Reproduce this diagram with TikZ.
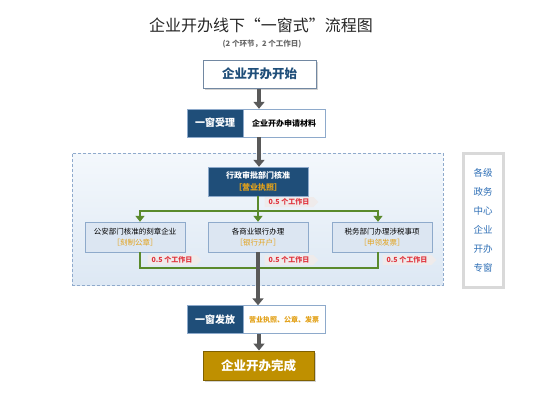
\documentclass[tikz,border=0pt]{standalone}
\usepackage{fontspec}
\setmainfont{Noto Sans CJK SC}
\usetikzlibrary{arrows.meta,shadows,shapes.symbols}
\definecolor{navy}{HTML}{1F4E79}
\definecolor{boxedge}{HTML}{8EAACB}
\definecolor{paleblue}{HTML}{DCE6F2}
\definecolor{zonetop}{HTML}{F4F8FC}
\definecolor{zonebot}{HTML}{DDE8F4}
\definecolor{zoneedge}{HTML}{8FAACC}
\definecolor{flowgray}{HTML}{595959}
\definecolor{branchgreen}{HTML}{5A8A2C}
\definecolor{daysred}{HTML}{E0323C}
\definecolor{tagfill}{HTML}{EFEBEB}
\definecolor{goldtext}{HTML}{E3A21A}
\definecolor{goldfill}{HTML}{BF9000}
\definecolor{goldedge}{HTML}{7F6000}
\definecolor{sideblue}{HTML}{2E6FB6}
\definecolor{sideedge}{HTML}{D9D9D9}

\begin{document}
\begin{tikzpicture}[x=1pt, y=-1pt,
    every node/.style={inner sep=0pt, align=center},
    bar/.style={draw=boxedge, fill=navy, text=white, font=\bfseries\fontsize{10}{12}\selectfont,
                minimum width=56pt, minimum height=28pt},
    note/.style={draw=boxedge, fill=white, minimum width=82pt, minimum height=28pt},
    dept/.style={draw=boxedge, fill=paleblue, minimum width=100pt, minimum height=30pt,
                 font=\fontsize{7.5}{11.5}\selectfont},
    daytag/.style={signal, signal to=east, fill=tagfill, text=daysred, minimum height=10pt,
                   inner xsep=4pt, font=\bfseries\fontsize{7}{8}\selectfont},
    mainflow/.style={draw=flowgray, line width=4pt, -{Triangle[length=7pt,width=11pt]}},
    branch/.style={draw=branchgreen, line width=2.5pt},
    tip/.style={-{Triangle[length=6pt,width=9pt]}},
]
  \useasboundingbox (0,0) rectangle (547,400);

  \node [font=\fontsize{16}{18}\selectfont, text=black!85] (title) at (261,25)
        {企业开办线下“一窗式”流程图};
  \node [font=\bfseries\fontsize{7.5}{8}\selectfont, text=black!60] (sub) at (262,44)
        {(2 个环节，2 个工作日)};

  \node [draw=boxedge!80!black, fill=white, line width=1pt, minimum width=113pt, minimum height=28pt,
         text=navy, font=\bfseries\fontsize{12.5}{14}\selectfont,
         drop shadow={shadow xshift=2pt, shadow yshift=-2pt, fill=black!35}] (start) at (259.5,74)
        {企业开办开始};

  \node [bar]  (takeL) at (215,123)   {一窗受理};
  \node [note, font=\bfseries\fontsize{8}{10}\selectfont] (takeR) at (284,123) {企业开办申请材料};

  \node [draw=zoneedge, dash pattern=on 3pt off 2pt, line width=0.8pt,
         top color=zonetop, bottom color=zonebot,
         minimum width=371pt, minimum height=132pt] (zone) at (257.5,219) {};

  \node [draw=boxedge, fill=navy, minimum width=100pt, minimum height=29pt,
         font=\bfseries\fontsize{8}{12}\selectfont, text=white] (admin) at (258,181.5)
        {行政审批部门核准\\\textcolor{goldtext}{［营业执照］}};

  \node [dept] (police) at (135,237) {公安部门核准的刻章企业\\\textcolor{goldtext}{［刻制公章］}};
  \node [dept] (bank)   at (258,237) {各商业银行办理\\\textcolor{goldtext}{［银行开户］}};
  \node [dept] (tax)    at (382,237) {税务部门办理涉税事项\\\textcolor{goldtext}{［申领发票］}};

  \coordinate (jL) at (140,211);
  \coordinate (jR) at (378,211);
  \coordinate (kL) at (140,268);
  \coordinate (kR) at (378,268);

  \draw [branch, tip] (admin.south) -- (bank.north);
  \draw [branch, {Triangle[length=6pt,width=9pt]}-{Triangle[length=6pt,width=9pt]}]
        (police.north -| jL) -- (jL) -- (jR) -- (tax.north -| jR);
  \draw [branch] (police.south -| kL) -- (kL) -- (kR) -- (tax.south -| kR);

  \node [daytag] (dayA) at (289,202) {0.5 个工作日};
  \node [daytag] (dayB) at (172,260) {0.5 个工作日};
  \node [daytag] (dayC) at (289,260) {0.5 个工作日};
  \node [daytag] (dayD) at (407,260) {0.5 个工作日};

  \node [bar]  (giveL) at (215,319.5) {一窗发放};
  \node [note, font=\bfseries\fontsize{7}{9}\selectfont, text=goldtext] (giveR) at (284,319.5)
        {营业执照、公章、发票};

  \node [draw=goldedge, fill=goldfill, line width=1pt, minimum width=111pt, minimum height=29pt,
         text=white, font=\bfseries\fontsize{12.5}{14}\selectfont,
         drop shadow={shadow xshift=2pt, shadow yshift=-2pt, fill=black!35}] (done) at (258.5,365.5)
        {企业开办完成};

  \draw [mainflow] (start.south -| 259,0) -- (takeR.north -| 259,0);
  \draw [mainflow] (takeR.south -| 259,0) -- (admin.north -| 259,0);
  \draw [mainflow] (bank.south) -- (giveR.north -| bank.south);
  \draw [mainflow] (giveR.south -| 259,0) -- (done.north -| 259,0);

  \node [draw=sideedge, line width=3pt, fill=white, minimum width=40pt, minimum height=134pt,
         text=sideblue, font=\fontsize{9.5}{19}\selectfont] (side) at (483,220)
        {各级\\政务\\中心\\企业\\开办\\专窗};
\end{tikzpicture}
\end{document}
